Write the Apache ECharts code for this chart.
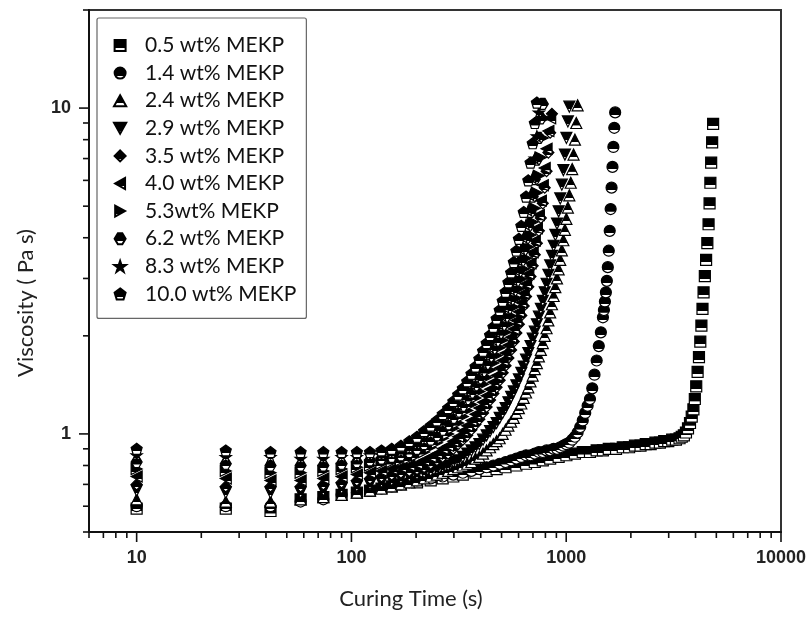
<!DOCTYPE html>
<html><head><meta charset="utf-8">
<script src="https://cdn.jsdelivr.net/npm/echarts@6/dist/echarts.min.js"></script>
<style>html,body{margin:0;padding:0;background:#fff}#c{width:811px;height:617px}</style>
</head><body><div id="c"></div>
<script>
// ---------- data ----------
const seriesNames = ['0.5 wt% MEKP','1.4 wt% MEKP','2.4 wt% MEKP','2.9 wt% MEKP','3.5 wt% MEKP',
  '4.0 wt% MEKP','5.3wt% MEKP','6.2 wt% MEKP','8.3 wt% MEKP','10.0 wt% MEKP'];

// shared measuring times (s), 16 s step
const times16 = [10,26,42,58,74,90,106,122,138,154,170,186,202,218,234,250,266,282,298,314,
  330,346,362,378,394,410,426,442,458,474,490,506,522,538,554,570,586,602,618,634,
  650,666,682,698,714,730,746,762,778,794,810,826,842,858,874,890,906,922,938,954,
  970,986,1002,1018,1034,1050,1066,1082,1098,1114,1130];

// viscosity (Pa s) aligned with times16
const visc10_0 = [0.90,0.89,0.88,0.88,0.88,0.88,0.88,0.88,0.89,0.90,0.92,0.95,0.98,1.02,1.06,1.10,1.15,1.20,1.26,1.32,
  1.38,1.45,1.53,1.61,1.70,1.80,1.90,2.01,2.13,2.26,2.40,2.56,2.73,2.92,3.13,3.37,3.65,3.97,4.35,4.80,
  5.35,6.00,6.80,7.80,9.00,10.4];
const visc8_3 = [0.86,0.85,0.85,0.84,0.84,0.85,0.85,0.86,0.86,0.87,0.88,0.90,0.93,0.96,1.00,1.04,1.08,1.13,1.18,1.23,
  1.29,1.35,1.42,1.49,1.57,1.65,1.74,1.84,1.94,2.05,2.17,2.30,2.44,2.60,2.77,2.96,3.17,3.41,3.68,4.00,
  4.38,4.85,5.40,6.10,7.00,8.20,9.70];
const visc6_2 = [0.82,0.81,0.80,0.80,0.80,0.81,0.82,0.83,0.84,0.85,0.86,0.88,0.90,0.93,0.96,0.99,1.03,1.07,1.12,1.17,
  1.22,1.28,1.34,1.41,1.48,1.56,1.64,1.73,1.83,1.93,2.04,2.16,2.29,2.43,2.59,2.76,2.95,3.16,3.40,3.67,
  3.98,4.35,4.80,5.35,6.05,6.95,8.10,9.30,10.3];
const visc5_3 = [0.78,0.77,0.76,0.76,0.77,0.78,0.79,0.80,0.81,0.82,0.83,0.84,0.86,0.88,0.91,0.94,0.97,1.00,1.04,1.08,
  1.13,1.18,1.23,1.29,1.35,1.42,1.49,1.57,1.65,1.74,1.84,1.94,2.05,2.17,2.30,2.45,2.61,2.79,2.99,3.21,
  3.46,3.75,4.08,4.47,4.93,5.50,6.20,7.05,8.10,9.30];
const visc4_0 = [0.74,0.73,0.72,0.72,0.73,0.74,0.75,0.76,0.77,0.78,0.79,0.80,0.81,0.83,0.85,0.87,0.90,0.92,0.95,0.98,
  1.02,1.06,1.10,1.15,1.20,1.25,1.31,1.37,1.44,1.51,1.59,1.68,1.77,1.87,1.98,2.10,2.23,2.37,2.53,2.70,
  2.89,3.10,3.34,3.61,3.92,4.28,4.70,5.20,5.80,6.55,7.50,8.50,9.30];
const visc3_5 = [0.70,0.69,0.69,0.69,0.70,0.71,0.72,0.73,0.74,0.75,0.76,0.77,0.78,0.79,0.81,0.83,0.85,0.87,0.90,0.93,
  0.96,0.99,1.03,1.07,1.11,1.16,1.21,1.27,1.33,1.39,1.46,1.54,1.62,1.71,1.81,1.92,2.04,2.17,2.31,2.47,
  2.64,2.83,3.04,3.28,3.55,3.85,4.20,4.60,5.10,5.70,6.40,7.30,8.40,9.60];
const visc2_9 = [0.67,0.66,0.66,0.66,0.67,0.68,0.69,0.70,0.71,0.72,0.73,0.74,0.75,0.76,0.77,0.78,0.79,0.80,0.82,0.83,
  0.85,0.87,0.89,0.91,0.93,0.96,0.99,1.02,1.05,1.08,1.12,1.16,1.20,1.25,1.30,1.35,1.41,1.47,1.54,1.61,
  1.69,1.77,1.86,1.96,2.06,2.17,2.29,2.42,2.56,2.72,2.89,3.08,3.29,3.52,3.78,4.08,4.42,4.82,5.28,5.82,
  6.45,7.20,8.10,9.10,10.1];
const visc2_4 = [0.63,0.62,0.62,0.63,0.64,0.65,0.66,0.67,0.68,0.69,0.70,0.71,0.72,0.73,0.74,0.75,0.76,0.77,0.78,0.79,
  0.80,0.81,0.82,0.84,0.85,0.87,0.89,0.91,0.93,0.95,0.97,1.00,1.03,1.06,1.09,1.12,1.16,1.20,1.24,1.29,
  1.34,1.39,1.45,1.51,1.58,1.65,1.73,1.81,1.90,2.00,2.11,2.23,2.36,2.50,2.65,2.82,3.00,3.20,3.42,3.66,
  3.93,4.23,4.57,4.95,5.40,5.90,6.50,7.20,8.00,9.00,10.2];

// [time (s), viscosity (Pa s)]
const visc1_4 = [[10,0.60],[26,0.60],[42,0.60],[58,0.62],[74,0.63],[90,0.65],[106,0.66],[122,0.67],[138,0.68],[154,0.69],
  [170,0.70],[186,0.71],[202,0.72],[234,0.73],[266,0.74],[298,0.75],[330,0.76],[362,0.77],[394,0.78],[426,0.79],
  [458,0.80],[490,0.81],[522,0.82],[554,0.83],[586,0.84],[618,0.85],[650,0.86],[682,0.86],[714,0.87],[746,0.88],
  [778,0.88],[810,0.89],[842,0.89],[874,0.90],[906,0.90],[938,0.91],[970,0.92],[1002,0.93],[1034,0.94],[1066,0.96],
  [1098,0.98],[1130,1.01],[1162,1.05],[1194,1.10],[1226,1.16],[1258,1.22],[1290,1.28],[1322,1.38],[1354,1.52],[1386,1.68],
  [1418,1.86],[1450,2.05],[1482,2.28],[1498,2.40],[1514,2.55],[1530,2.72],[1546,2.95],[1562,3.25],[1578,3.65],[1594,4.20],
  [1610,4.90],[1626,5.70],[1642,6.60],[1658,7.60],[1674,8.70],[1690,9.70]];
const visc0_5 = [[10,0.59],[26,0.59],[42,0.58],[58,0.63],[74,0.64],[90,0.65],[106,0.66],[122,0.67],[138,0.68],[154,0.69],
  [170,0.70],[202,0.71],[234,0.72],[266,0.73],[298,0.74],[330,0.75],[378,0.76],[426,0.77],[474,0.78],[522,0.79],
  [586,0.80],[650,0.81],[714,0.82],[778,0.83],[842,0.84],[922,0.85],[1002,0.86],[1098,0.87],[1194,0.88],[1290,0.88],
  [1386,0.89],[1482,0.89],[1578,0.90],[1706,0.90],[1834,0.91],[1962,0.91],[2090,0.92],[2218,0.92],[2346,0.93],[2474,0.93],
  [2602,0.94],[2730,0.94],[2858,0.95],[2986,0.95],[3114,0.96],[3242,0.96],[3370,0.97],[3450,0.98],[3530,0.99],[3610,1.01],
  [3690,1.04],[3770,1.08],[3840,1.13],[3910,1.19],[3970,1.28],[4030,1.40],[4090,1.55],[4150,1.72],[4210,1.92],[4260,2.15],
  [4310,2.42],[4360,2.72],[4420,3.05],[4480,3.42],[4540,3.85],[4600,4.40],[4650,5.10],[4690,5.90],[4730,6.80],[4780,7.85],
  [4830,8.95]];

// axis ticks
const xMajorTicks = [10,100,1000,10000];
const xMinorTicks = [6,7,8,9,20,30,40,50,60,70,80,90,200,300,400,500,600,700,800,900,2000,3000,4000,5000,6000,7000,8000,9000];
const yMajorTicks = [1,10];
const yMinorTicks = [0.5,0.6,0.7,0.8,0.9,2,3,4,5,6,7,8,9,20];

// ---------- chart ----------
const X_MIN = 6, X_MAX = 10000, Y_MIN = 0.5, Y_MAX = 20;
const aligned = arr => arr.map((v, i) => [times16[i], v]);
const seriesData = [visc0_5, visc1_4, aligned(visc2_4), aligned(visc2_9), aligned(visc3_5),
  aligned(visc4_0), aligned(visc5_3), aligned(visc6_2), aligned(visc8_3), aligned(visc10_0)];
const symbols = ['path://M0,0L10,0L10,10L0,10Z','circle','path://M5,0L10,9L0,9Z','path://M0,0L10,0L5,9Z',
  'path://M5,0L10,5L5,10L0,5Z',
  'path://M9,0L9,10L0,5Z','path://M0,0L0,10L9,5Z','path://M3,0L7,0L10,5L7,10L3,10L0,5Z',
  'path://M5,0L6.2,3.6L10,3.6L6.9,5.9L8.1,9.5L5,7.3L1.9,9.5L3.1,5.9L0,3.6L3.8,3.6Z',
  'path://M5,0L10,3.8L8.1,10L1.9,10L0,3.8Z'];
const halfFill = {type:'linear',x:0,y:0,x2:0,y2:1,colorStops:[
  {offset:0,color:'#000'},{offset:0.7,color:'#000'},{offset:0.71,color:'#fff'},{offset:1,color:'#fff'}]};

const series = seriesNames.map((n, i) => ({
  name: n, type: 'scatter', data: seriesData[i], symbol: symbols[i], symbolSize: 11,
  itemStyle: {color: halfFill, borderColor: '#000', borderWidth: 1.2, opacity: 1},
  emphasis: {disabled: true}
}));

const xTickAll = xMajorTicks.concat(xMinorTicks);
const yTickAll = yMajorTicks.concat(yMinorTicks);
series.push({
  name: 'xticks', type: 'custom', silent: true, clip: false, z: 10,
  data: xTickAll.map(v => [v, 1]),
  renderItem: (params, api) => {
    const v = xTickAll[params.dataIndex];
    const len = params.dataIndex < xMajorTicks.length ? 10 : 6;
    const p = api.coord([v, Y_MIN]);
    return {type:'line', shape:{x1:p[0], y1:p[1], x2:p[0], y2:p[1] + len}, style:{stroke:'#111', lineWidth:1.6}};
  }
});
series.push({
  name: 'yticks', type: 'custom', silent: true, clip: false, z: 10,
  data: yTickAll.map(v => [10, v]),
  renderItem: (params, api) => {
    const v = yTickAll[params.dataIndex];
    const len = params.dataIndex < yMajorTicks.length ? 10 : 6;
    const p = api.coord([X_MIN, v]);
    return {type:'line', shape:{x1:p[0] - len, y1:p[1], x2:p[0], y2:p[1]}, style:{stroke:'#111', lineWidth:1.6}};
  }
});

const powLabel = v => {
  const lg = Math.log10(v);
  return Math.abs(lg - Math.round(lg)) < 1e-6 ? String(Math.round(Math.pow(10, Math.round(lg)))) : '';
};
const tickFont = {fontFamily:'Liberation Sans', fontSize:18, fontWeight:'bold', color:'#222'};

const chart = echarts.init(document.getElementById('c'), null, {renderer:'canvas'});
chart.setOption({
  animation: false,
  backgroundColor: '#fff',
  grid: {left: 89, right: 30, top: 10, bottom: 85, show: true, borderColor: '#333', borderWidth: 2, backgroundColor: 'transparent'},
  legend: {
    data: seriesNames, orient: 'vertical', left: 97, top: 18,
    padding: [17, 10, 14, 16], itemWidth: 40, itemHeight: 11, itemGap: 6.6,
    borderColor: '#666', borderWidth: 1.2, borderRadius: 2, backgroundColor: '#fff',
    textStyle: {fontFamily: 'Lato', fontSize: 21, lineHeight: 21, color: '#111'},
    selectedMode: false
  },
  xAxis: {
    type: 'log', logBase: 10, min: X_MIN, max: X_MAX,
    name: 'Curing Time (s)', nameLocation: 'middle', nameGap: 56,
    nameTextStyle: {fontFamily: 'Lato', fontSize: 22, color: '#222', padding: [0, 48, 0, 0]},
    axisLine: {lineStyle: {color: '#111', width: 2}},
    axisTick: {show: false}, splitLine: {show: false}, minorTick: {show: false},
    axisLabel: Object.assign({margin: 17, formatter: powLabel, showMinLabel: true, showMaxLabel: true}, tickFont)
  },
  yAxis: {
    type: 'log', logBase: 10, min: Y_MIN, max: Y_MAX,
    name: 'Viscosity ( Pa s)', nameLocation: 'middle', nameGap: 52,
    nameTextStyle: {fontFamily: 'Lato', fontSize: 22, color: '#222', padding: [0, 64, 0, 0]},
    axisLine: {lineStyle: {color: '#111', width: 2}},
    axisTick: {show: false}, splitLine: {show: false}, minorTick: {show: false},
    axisLabel: Object.assign({margin: 18, formatter: powLabel}, tickFont)
  },
  series: series
});
</script>
</body></html>
